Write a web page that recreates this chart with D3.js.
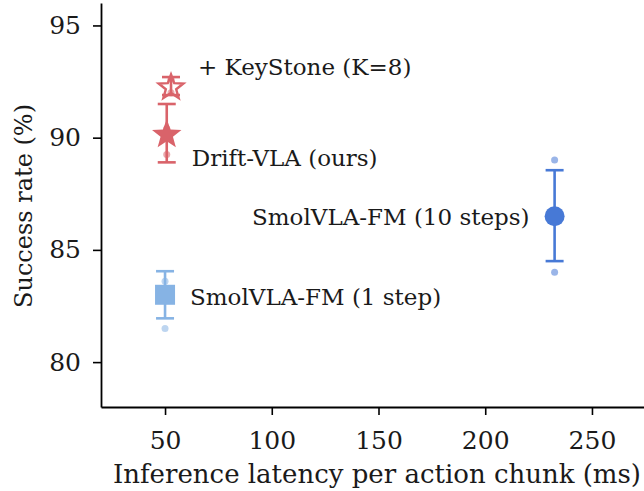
<!DOCTYPE html>
<html>
<head>
<meta charset="utf-8">
<script src="https://cdn.jsdelivr.net/npm/d3@7"></script>
<style>
  body { margin: 0; background: #fff; }
  svg { font-family: "DejaVu Serif", serif; }
</style>
</head>
<body>
<div id="chart"></div>
<script>
var width = 644,
  height = 491,
  margin = {top: 3, right: -12, bottom: 84, left: 101};

// data
var methods = ["Drift-VLA (ours)", "+ KeyStone (K=8)", "SmolVLA-FM (1 step)", "SmolVLA-FM (10 steps)"];
var latency = [50.8, 52.8, 50.0, 232.5];
var success = [90.2, 92.3, 83.0, 86.5];
var errLow = [88.9, 91.9, 81.95, 84.5];
var errHigh = [91.5, 92.7, 84.05, 88.55];
var seedMin = [89.25, 92.0, 81.5, 84.0];
var seedMax = [90.4, 92.6, 83.6, 89.0];
var colors = ["#d9636a", "#d9636a", "#86b3e4", "#4779d6"];
var markers = ["star", "starOpen", "square", "circle"];
var xTicks = [50, 100, 150, 200, 250];
var yTicks = [80, 85, 90, 95];

var svg = d3.select("#chart").append("svg")
  .attr("width", width)
  .attr("height", height);

var x = d3.scaleLinear()
  .domain([20, 280])
  .range([margin.left, width - margin.right]);

var y = d3.scaleLinear()
  .domain([78, 96])
  .range([height - margin.bottom, margin.top]);

var xAxis = svg.append("g")
  .attr("transform", "translate(0," + (height - margin.bottom) + ")")
  .call(d3.axisBottom(x).tickValues(xTicks).tickSize(8).tickPadding(16).tickSizeOuter(0));

var yAxis = svg.append("g")
  .attr("transform", "translate(" + margin.left + ",0)")
  .call(d3.axisLeft(y).tickValues(yTicks).tickSize(8).tickPadding(12).tickSizeOuter(0));

[xAxis, yAxis].forEach(function (a) {
  a.select(".domain").attr("stroke", "#000").attr("stroke-width", 1.8);
  a.selectAll(".tick line").attr("stroke", "#000").attr("stroke-width", 1.6);
  a.selectAll(".tick text").attr("fill", "#1a1a1a").style("font-size", "25px").style("font-family", "DejaVu Serif");
});

svg.append("text")
  .attr("x", 377)
  .attr("y", 483)
  .attr("text-anchor", "middle")
  .style("font-size", "26px")
  .attr("fill", "#1a1a1a")
  .text("Inference latency per action chunk (ms)");

svg.append("text")
  .attr("transform", "translate(32,206) rotate(-90)")
  .attr("text-anchor", "middle")
  .style("font-size", "24px")
  .attr("fill", "#1a1a1a")
  .text("Success rate (%)");

function starPath(r) {
  var pts = [];
  for (var i = 0; i < 10; i++) {
    var rad = i % 2 === 0 ? r : r * 0.42;
    var a = -Math.PI / 2 + i * Math.PI / 5;
    pts.push([rad * Math.cos(a), rad * Math.sin(a)]);
  }
  return "M" + pts.map(function (p) { return p[0].toFixed(2) + "," + p[1].toFixed(2); }).join("L") + "Z";
}

var data = methods.map(function (m, i) {
  return {name: m, x: latency[i], y: success[i], lo: errLow[i], hi: errHigh[i],
    min: seedMin[i], max: seedMax[i], color: colors[i], marker: markers[i]};
});

var g = svg.selectAll(".method")
  .data(data)
  .enter().append("g")
  .attr("class", "method");

// seed dots
g.each(function (d) {
  var s = d3.select(this);
  [d.min, d.max].forEach(function (v) {
    s.append("circle")
      .attr("cx", x(d.x))
      .attr("cy", y(v))
      .attr("r", 3.5)
      .attr("fill", d.color)
      .attr("opacity", 0.55);
  });
});

// error bars
g.append("line")
  .attr("x1", function (d) { return x(d.x); })
  .attr("x2", function (d) { return x(d.x); })
  .attr("y1", function (d) { return y(d.lo); })
  .attr("y2", function (d) { return y(d.hi); })
  .attr("stroke", function (d) { return d.color; })
  .attr("stroke-width", 2.6);

g.each(function (d) {
  var s = d3.select(this);
  [d.lo, d.hi].forEach(function (v) {
    s.append("line")
      .attr("x1", x(d.x) - 9)
      .attr("x2", x(d.x) + 9)
      .attr("y1", y(v))
      .attr("y2", y(v))
      .attr("stroke", d.color)
      .attr("stroke-width", 2.6);
  });
});

// markers
g.each(function (d) {
  var s = d3.select(this);
  var cx = x(d.x), cy = y(d.y);
  if (d.marker === "star") {
    s.append("path").attr("d", starPath(15.5))
      .attr("transform", "translate(" + cx + "," + (cy + 1.5) + ")")
      .attr("fill", d.color);
  } else if (d.marker === "starOpen") {
    s.append("path").attr("d", starPath(13))
      .attr("transform", "translate(" + cx + "," + (cy + 1.5) + ")")
      .attr("fill", "none")
      .attr("stroke", d.color)
      .attr("stroke-width", 2.4);
  } else if (d.marker === "square") {
    s.append("rect")
      .attr("x", cx - 10).attr("y", cy - 10)
      .attr("width", 20).attr("height", 20)
      .attr("fill", d.color);
  } else {
    s.append("circle")
      .attr("cx", cx).attr("cy", cy).attr("r", 10)
      .attr("fill", d.color);
  }
});

// labels
var labelPos = [
  {dx: 25, dy: 25, anchor: "start"},
  {dx: 27, dy: -19.5, anchor: "start"},
  {dx: 25, dy: 2, anchor: "start"},
  {dx: -25, dy: 1, anchor: "end"}
];

g.append("text")
  .attr("x", function (d, i) { return x(d.x) + labelPos[i].dx; })
  .attr("y", function (d, i) { return y(d.y) + labelPos[i].dy; })
  .attr("dy", "0.35em")
  .attr("text-anchor", function (d, i) { return labelPos[i].anchor; })
  .style("font-size", "23px")
  .attr("fill", "#1a1a1a")
  .text(function (d) { return d.name; });
</script>
</body>
</html>
